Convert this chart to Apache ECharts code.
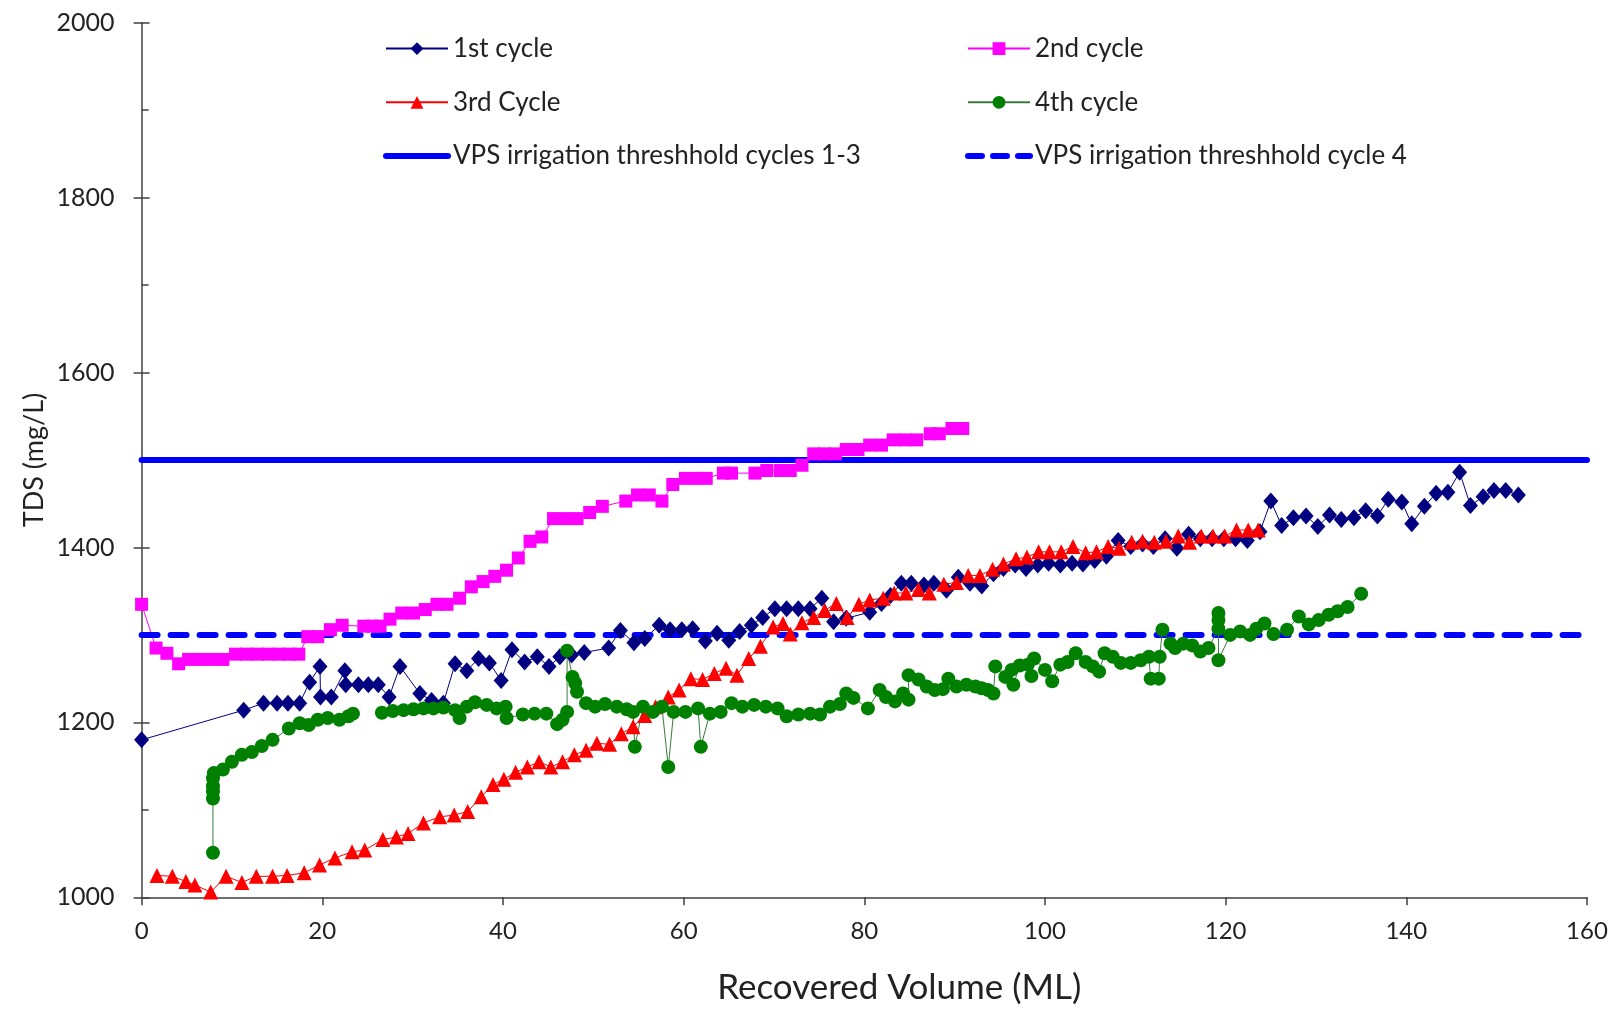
<!DOCTYPE html>
<html lang="en">
<head>
    <meta charset="UTF-8">
    <title>TDS vs Recovered Volume</title>
    <script src="https://cdn.jsdelivr.net/npm/echarts@6.0.0/dist/echarts.min.js"></script>
    <style>
        html, body { margin: 0; padding: 0; background: #fff; }
        #main { width: 1621px; height: 1009px; }
    </style>
</head>
<body>
    <div id="main"></div>
    <script>
        // [recovered volume ML, TDS mg/L]
        var cycle1 = [
            [0, 1180], [11.3, 1214], [13.5, 1222], [15.0, 1222], [16.2, 1222], [17.5, 1222], [18.6, 1246],
            [19.75, 1264], [19.8, 1229], [21.0, 1229], [22.5, 1259], [22.6, 1243], [24.0, 1243], [25.1, 1243],
            [26.2, 1243], [27.4, 1229], [28.6, 1264], [30.8, 1233], [32.1, 1225], [33.4, 1222], [34.7, 1267],
            [36.0, 1259], [37.3, 1273], [38.5, 1268], [39.8, 1248], [41.0, 1283], [42.4, 1269], [43.8, 1275],
            [45.1, 1264], [46.3, 1275], [47.6, 1277], [49.0, 1280], [51.7, 1285], [53.0, 1305], [54.5, 1291],
            [55.7, 1296], [57.3, 1311], [58.5, 1306], [59.8, 1306], [61.0, 1307], [62.4, 1293], [63.7, 1302],
            [65.0, 1294], [66.2, 1304], [67.5, 1311], [68.75, 1320], [70.1, 1330], [71.4, 1330], [72.7, 1330],
            [74.0, 1330], [75.3, 1342], [76.6, 1315], [78.0, 1319], [80.6, 1326], [81.9, 1336], [82.9, 1345],
            [84.1, 1359], [85.2, 1359], [86.6, 1357], [87.7, 1359], [89.1, 1351], [90.4, 1366], [91.7, 1359],
            [93.0, 1356], [94.3, 1370], [95.4, 1376], [96.7, 1380], [97.9, 1376], [99.2, 1380], [100.4, 1382],
            [101.7, 1380], [103.0, 1382], [104.2, 1381], [105.5, 1385], [106.8, 1390], [108.1, 1408], [109.5, 1401],
            [110.8, 1404], [112.0, 1401], [113.3, 1410], [114.6, 1399], [115.9, 1415], [117.2, 1410], [118.5, 1410],
            [119.8, 1410], [121.1, 1410], [122.4, 1408], [123.8, 1418], [125.0, 1453], [126.2, 1425], [127.5, 1434],
            [128.9, 1436], [130.2, 1424], [131.5, 1437], [132.8, 1432], [134.2, 1434], [135.5, 1442], [136.8, 1436],
            [138.0, 1455], [139.5, 1452], [140.6, 1427], [142.0, 1447], [143.3, 1462], [144.6, 1463], [145.9, 1486],
            [147.1, 1448], [148.5, 1458], [149.7, 1465], [151.0, 1465], [152.4, 1460]
        ];

        var cycle2 = [
            [0, 1335], [1.6, 1285], [2.8, 1279], [4.1, 1267], [5.2, 1272], [6.4, 1272], [7.7, 1272], [9.0, 1272],
            [10.4, 1278], [11.6, 1278], [12.8, 1278], [14.0, 1278], [15.2, 1278], [16.3, 1278], [17.4, 1278],
            [18.4, 1298], [19.5, 1298], [20.9, 1306], [22.2, 1311], [24.6, 1310], [25.6, 1310], [26.4, 1310],
            [27.5, 1318], [28.8, 1325], [30.1, 1325], [31.4, 1329], [32.7, 1335], [33.8, 1335], [35.2, 1342],
            [36.5, 1355], [37.8, 1361], [39.1, 1367], [40.4, 1374], [41.7, 1388], [43.0, 1407], [44.3, 1412],
            [45.6, 1433], [46.9, 1433], [48.2, 1433], [49.6, 1440], [51.0, 1447], [53.6, 1453], [54.9, 1460],
            [56.2, 1460], [57.6, 1453], [58.8, 1472], [60.2, 1479], [61.4, 1479], [62.5, 1479], [64.4, 1485],
            [65.3, 1485], [67.9, 1485], [69.2, 1488], [70.7, 1488], [71.8, 1488], [73.1, 1494], [74.4, 1507],
            [75.6, 1507], [76.8, 1507], [78.0, 1512], [79.3, 1512], [80.6, 1517], [81.9, 1517], [83.2, 1523],
            [84.5, 1523], [85.8, 1523], [87.3, 1530], [88.3, 1530], [89.7, 1536], [90.9, 1536]
        ];

        var cycle3 = [
            [1.7, 1025], [3.4, 1024], [4.9, 1018], [5.9, 1014], [7.65, 1006], [9.35, 1024], [11.1, 1017],
            [12.7, 1024], [14.5, 1024], [16.1, 1025], [18.0, 1028], [19.7, 1037], [21.4, 1045], [23.3, 1052],
            [24.7, 1054], [26.7, 1066], [28.2, 1069], [29.5, 1073], [31.2, 1085], [33.0, 1092], [34.6, 1094],
            [36.1, 1098], [37.6, 1115], [38.9, 1129], [40.1, 1135], [41.4, 1143], [42.7, 1149], [44.0, 1155],
            [45.3, 1149], [46.6, 1155], [47.9, 1163], [49.2, 1168], [50.4, 1176], [51.8, 1175], [53.1, 1187],
            [54.4, 1195], [55.7, 1208], [56.9, 1218], [58.3, 1229], [59.5, 1237], [60.8, 1250], [62.1, 1249],
            [63.4, 1256], [64.7, 1262], [65.9, 1254], [67.2, 1273], [68.5, 1287], [69.9, 1309], [71.0, 1313],
            [71.8, 1301], [73.1, 1314], [74.4, 1320], [75.6, 1328], [76.9, 1336], [78.1, 1320], [79.4, 1335],
            [80.6, 1340], [82.1, 1342], [83.3, 1348], [84.6, 1348], [86.0, 1352], [87.2, 1348], [88.8, 1358],
            [90.2, 1360], [91.5, 1368], [92.8, 1368], [94.2, 1375], [95.4, 1381], [96.8, 1387], [98.0, 1389],
            [99.3, 1395], [100.5, 1395], [101.8, 1395], [103.1, 1401], [104.5, 1394], [105.7, 1395], [107.0, 1401],
            [108.2, 1399], [109.6, 1406], [110.8, 1407], [112.1, 1406], [113.4, 1407], [114.75, 1413], [116.0, 1406],
            [117.3, 1413], [118.6, 1413], [119.9, 1413], [121.2, 1420], [122.5, 1420], [123.6, 1420]
        ];

        // '-' marks the gap in the 4th cycle record
        var cycle4 = [
            [7.9, 1051], [7.9, 1113], [7.9, 1121], [7.9, 1127], [7.9, 1136], [8.0, 1142], [9.0, 1146], [10.0, 1155],
            [11.1, 1163], [12.2, 1166], [13.3, 1173], [14.5, 1180], [16.3, 1193], [17.5, 1199], [18.5, 1197],
            [19.5, 1203], [20.6, 1205], [21.9, 1203], [22.9, 1207], [23.4, 1210], [25.0, '-'],
            [26.6, 1211], [27.8, 1213], [29.0, 1214], [30.1, 1215], [31.2, 1216], [32.3, 1216], [33.4, 1217],
            [34.7, 1214], [35.2, 1205], [36.0, 1218], [36.9, 1223], [38.2, 1220], [39.3, 1216], [40.3, 1218],
            [40.4, 1205], [42.2, 1209], [43.5, 1210], [44.8, 1210], [46.0, 1198], [46.6, 1203], [47.1, 1212],
            [47.1, 1282], [47.7, 1252], [48.0, 1245], [48.2, 1235], [49.2, 1222], [50.2, 1218], [51.3, 1221],
            [52.6, 1218], [53.7, 1215], [54.4, 1212], [54.6, 1172], [55.5, 1218], [56.6, 1212], [57.6, 1218],
            [58.3, 1149], [58.9, 1212], [60.2, 1212], [61.6, 1216], [61.9, 1172], [62.9, 1210], [64.1, 1212],
            [65.3, 1222], [66.5, 1218], [67.8, 1220], [69.1, 1218], [70.4, 1216], [71.4, 1207], [72.7, 1209],
            [74.0, 1210], [75.1, 1209], [76.2, 1218], [77.3, 1221], [78.0, 1233], [78.8, 1228], [80.4, 1216],
            [81.7, 1237], [82.4, 1229], [83.4, 1224], [84.3, 1233], [84.9, 1226], [84.9, 1254], [86.0, 1249],
            [86.9, 1241], [87.8, 1237], [88.7, 1238], [89.3, 1250], [90.2, 1241], [91.3, 1243], [92.3, 1241],
            [93.0, 1239], [93.7, 1237], [94.3, 1233], [94.5, 1264], [95.6, 1252], [96.3, 1260], [96.5, 1243],
            [97.2, 1265], [98.1, 1266], [98.5, 1253], [98.8, 1273], [100.0, 1260], [100.8, 1247], [101.7, 1266],
            [102.5, 1269], [103.4, 1279], [104.5, 1269], [105.3, 1264], [106.0, 1258], [106.6, 1279], [107.5, 1275],
            [108.4, 1268], [109.5, 1268], [110.6, 1271], [111.5, 1275], [111.7, 1250], [112.6, 1250], [112.7, 1275],
            [113.0, 1306], [113.9, 1290], [114.4, 1285], [115.3, 1290], [116.3, 1288], [117.2, 1281], [118.1, 1285],
            [119.2, 1307], [119.2, 1317], [119.2, 1325], [119.2, 1271], [120.5, 1300], [121.6, 1304], [122.7, 1300],
            [123.4, 1307], [124.3, 1313], [125.3, 1301], [126.8, 1306], [128.1, 1321], [129.2, 1312], [130.3, 1317],
            [131.4, 1323], [132.4, 1327], [133.5, 1332], [135.0, 1347]
        ];

        var thresholdCycles13 = [[0, 1500], [160, 1500]];
        var thresholdCycle4 = [[0, 1300], [160, 1300]];

        var seriesNames = ['1st cycle', '2nd cycle', '3rd Cycle', '4th cycle',
            'VPS irrigation threshhold cycles 1-3', 'VPS irrigation threshhold cycle 4'];

        var font = 'Lato, "Open Sans", sans-serif';
        var axisColor = '#404040';
        var dashPattern = [16, 13];

        function cycleSeries(name, data, symbol, size, color, lineColor) {
            return {
                name: name,
                type: 'line',
                data: data,
                symbol: symbol,
                symbolSize: size,
                showSymbol: true,
                connectNulls: false,
                itemStyle: { color: color },
                lineStyle: { color: lineColor || color, width: 1 },
                emphasis: { disabled: true }
            };
        }

        function thresholdSeries(name, data, type) {
            return {
                name: name,
                type: 'line',
                data: data,
                showSymbol: false,
                symbol: 'circle',
                itemStyle: { color: 'rgba(0,0,0,0)' },
                lineStyle: { color: '#0000ff', width: 6, type: type, cap: 'round' },
                emphasis: { disabled: true }
            };
        }

        var legendBase = {
            orient: 'vertical',
            itemWidth: 62,
            itemHeight: 16,
            itemGap: 27.7,
            selectedMode: false,
            textStyle: { fontFamily: font, fontSize: 26, lineHeight: 26, color: '#222' }
        };

        function thickLegendItem(name, type) {
            return { name: name, lineStyle: { width: 6, type: type, cap: 'round', color: '#0000ff' } };
        }

        var option = {
            animation: false,
            backgroundColor: '#ffffff',
            grid: { left: 141.6, right: 34, top: 22.7, bottom: 111.7, outerBoundsMode: 'none', containLabel: false },
            legend: [
                Object.assign({ left: 378, top: 30.6, data: [seriesNames[0], seriesNames[2],
                    thickLegendItem(seriesNames[4], 'solid')] }, legendBase),
                Object.assign({ left: 960, top: 30.6, data: [seriesNames[1], seriesNames[3],
                    thickLegendItem(seriesNames[5], [14, 11])] }, legendBase)
            ],
            xAxis: {
                type: 'value',
                min: 0,
                max: 160,
                interval: 20,
                name: 'Recovered Volume (ML)',
                nameLocation: 'middle',
                nameGap: 73,
                nameMoveOverlap: false,
                nameTextStyle: { fontFamily: font, fontSize: 35, color: '#222', padding: [0, 0, 0, 70] },
                axisLine: { lineStyle: { color: axisColor, width: 1.5 } },
                axisTick: { show: true, inside: false, length: 8, lineStyle: { color: axisColor, width: 1.5 } },
                axisLabel: { fontFamily: font, fontSize: 24, color: '#222', margin: 22 },
                splitLine: { show: false }
            },
            yAxis: [{
                type: 'value',
                min: 1000,
                max: 2000,
                interval: 200,
                position: 'left',
                name: 'TDS (mg/L)',
                nameLocation: 'middle',
                nameGap: 94,
                nameMoveOverlap: false,
                nameTextStyle: { fontFamily: font, fontSize: 27, color: '#222' },
                axisLine: { show: true, lineStyle: { color: axisColor, width: 1.5 } },
                axisTick: { show: true, inside: false, length: 8, lineStyle: { color: axisColor, width: 1.5 } },
                axisLabel: {
                    fontFamily: font, fontSize: 25, color: '#222', margin: 27,
                    formatter: function (v) { return String(v); }
                },
                splitLine: { show: false }
            }, {
                // inner half of the crossing ticks plus the minor ticks
                type: 'value',
                min: 1000,
                max: 2000,
                interval: 200,
                position: 'left',
                offset: 0,
                axisLine: { show: false },
                axisTick: { show: true, inside: true, length: 8, lineStyle: { color: axisColor, width: 1.5 } },
                minorTick: { show: true, splitNumber: 2, length: 7, lineStyle: { color: axisColor, width: 1.5 } },
                axisLabel: { show: false },
                splitLine: { show: false }
            }],
            series: [
                cycleSeries(seriesNames[0], cycle1, 'diamond', [15, 17], '#000080'),
                cycleSeries(seriesNames[1], cycle2, 'rect', 13, '#ff00ff'),
                cycleSeries(seriesNames[2], cycle3, 'triangle', 15, '#ff0000'),
                thresholdSeries(seriesNames[4], thresholdCycles13, 'solid'),
                thresholdSeries(seriesNames[5], thresholdCycle4, dashPattern),
                cycleSeries(seriesNames[3], cycle4, 'circle', 14, '#008000', '#3c7a3c')
            ]
        };

        var myChart = echarts.init(document.getElementById('main'));
        myChart.setOption(option);
    </script>
</body>
</html>
